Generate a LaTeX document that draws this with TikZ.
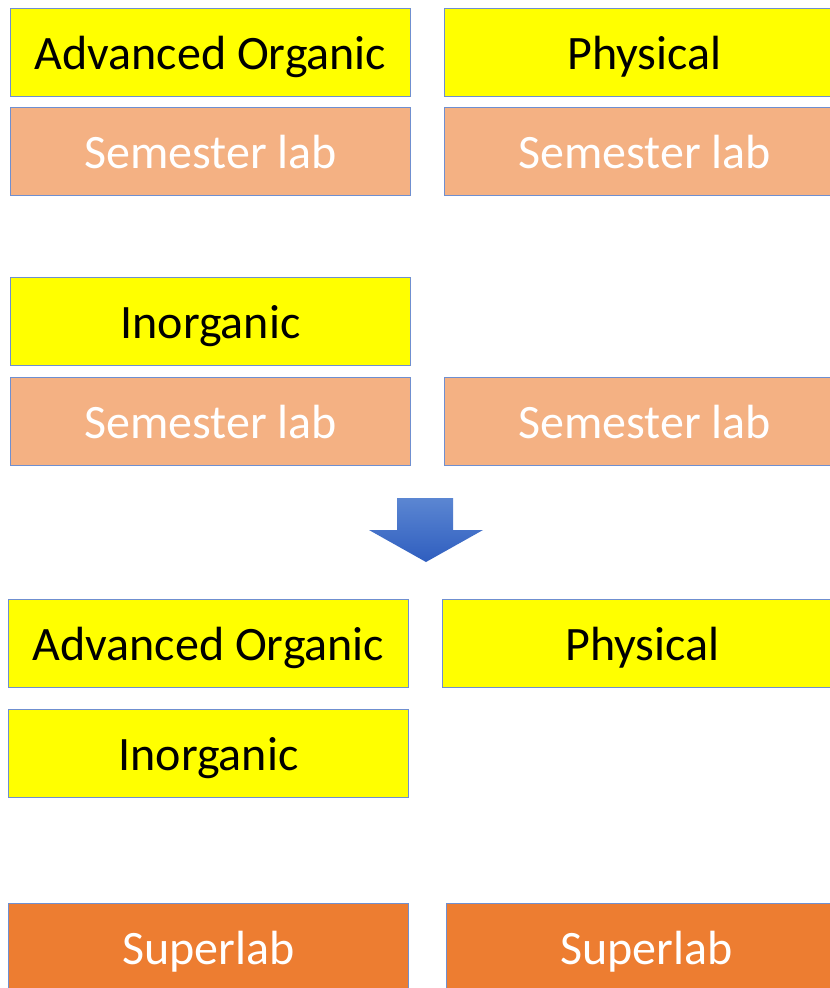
\documentclass[tikz,border=0pt]{standalone}
\usepackage{fontspec}
\setmainfont{Carlito}
\definecolor{edgeblue}{HTML}{6F8FD0}
\definecolor{labyellow}{HTML}{FFFF00}
\definecolor{semfill}{HTML}{F4B183}
\definecolor{superfill}{HTML}{ED7D31}
\definecolor{arrtop}{HTML}{5B86D2}
\definecolor{arrbot}{HTML}{2F5EBF}
\begin{document}
\begin{tikzpicture}[x=1pt,y=-1pt,
  box/.style={draw=edgeblue, line width=0.9pt, anchor=north west, inner sep=0pt,
    minimum width=400pt, minimum height=88pt, text height=34pt, text depth=0pt,
    font=\fontsize{48}{56}\selectfont},
  course/.style={box, fill=labyellow, text=black},
  semlab/.style={box, fill=semfill, text=white},
  superlab/.style={box, fill=superfill, text=white}]
\path[use as bounding box, clip] (0,0) rectangle (830,988);
\fill[white] (0,0) rectangle (830,988);
% top half
\node[course] (ao1) at (10,8) {Advanced Organic};
\node[course] (ph1) at (444,8) {Physical};
\node[semlab] (s1) at (10,107) {Semester lab};
\node[semlab] (s2) at (444,107) {Semester lab};
\node[course] (in1) at (10,277) {Inorganic};
\node[semlab] (s3) at (10,377) {Semester lab};
\node[semlab] (s4) at (444,377) {Semester lab};
% block arrow
\shade[top color=arrtop, bottom color=arrbot]
  (397,498) -- (453,498) -- (453,530) -- (483,530) -- (426,562) -- (369,530) -- (397,530) -- cycle;
% bottom half
\node[course] (ao2) at (8,599) {Advanced Organic};
\node[course] (ph2) at (442,599) {Physical};
\node[course] (in2) at (8,709) {Inorganic};
\node[superlab] (sl1) at (8,903) {Superlab};
\node[superlab] (sl2) at (446,903) {Superlab};
\end{tikzpicture}
\end{document}
